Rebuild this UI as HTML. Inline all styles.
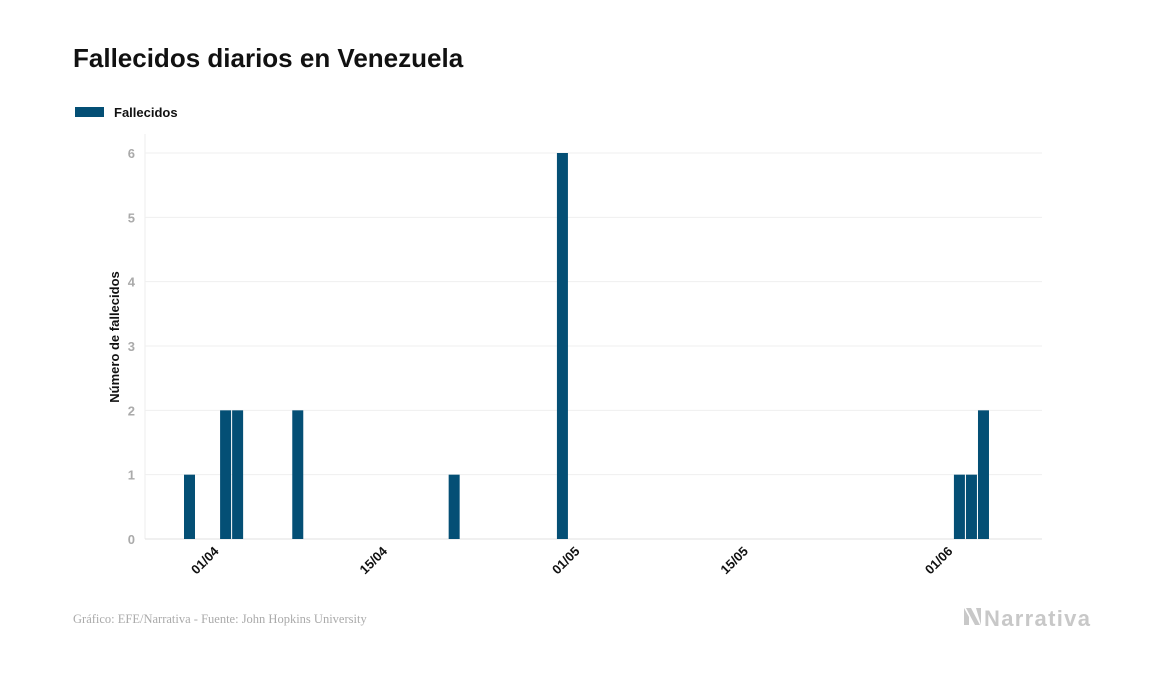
<!DOCTYPE html>
<html><head><meta charset="utf-8">
<style>
body{margin:0;background:#fff;width:1157px;height:674px;overflow:hidden;font-family:"Liberation Sans",sans-serif}
</style></head>
<body>
<svg width="1157" height="674" xmlns="http://www.w3.org/2000/svg" id="chart">
<text x="73" y="67" font-size="26" font-weight="bold" fill="#111">Fallecidos diarios en Venezuela</text>
<g>
<rect x="75" y="107" width="29" height="10" fill="#044f75"/>
<text x="114" y="117" font-size="13" font-weight="bold" fill="#111">Fallecidos</text>
</g>
<line x1="145" y1="134" x2="145" y2="539" stroke="#eee"/>
<g id="grid"></g>
<g id="bars"></g>
<g id="xticks"></g>
<text transform="translate(119,337) rotate(-90)" text-anchor="middle" font-size="13" font-weight="bold" fill="#111">Número de fallecidos</text>
<text x="73" y="623" font-family="Liberation Serif,serif" font-size="12.5" fill="#aaa">Gráfico: EFE/Narrativa - Fuente: John Hopkins University</text>
<g>
<path d="M964 608 l0 17 l5 0 l0 -8 z M966 608 l5 0 l9 17 l-5 0 z M976 608 l5 0 l0 17 z" fill="#c8c8c8"/>
<text x="984" y="626" font-size="22" font-weight="bold" fill="#c8c8c8" textLength="106">Narrativa</text>
</g>
</svg>
<script>
const startDate = "30/03";
const values = [1,0,0,2,2,0,0,0,0,2,0,0,0,0,0,0,0,0,0,0,0,0,1,0,0,0,0,0,0,0,0,6,0,0,0,0,0,0,0,0,0,0,0,0,0,0,0,0,0,0,0,0,0,0,0,0,0,0,0,0,0,0,0,0,1,1,2];
const yTicks = [0,1,2,3,4,5,6];
const xTickLabels = ["01/04","15/04","01/05","15/05","01/06"];
const xTickDays = [2,16,32,46,63];

const NS="http://www.w3.org/2000/svg";
const x0=184, step=12.03, bw=11;
const y = v => 539 - v*(539-153)/6;
const xc = d => x0 + d*step + bw/2;
const grid=document.getElementById('grid'), bars=document.getElementById('bars'), xt=document.getElementById('xticks');
function mk(tag, attrs){const e=document.createElementNS(NS,tag);for(const k in attrs)e.setAttribute(k,attrs[k]);return e;}
yTicks.forEach(t=>{
  const l=mk('line',{x1:145,x2:1042,y1:y(t),y2:y(t),stroke:t===0?'#e2e2e2':'#efefef'});
  
  
  grid.appendChild(l);
  const tx=mk('text',{x:135,y:y(t)+5,'text-anchor':'end','font-size':13,'font-weight':'bold',fill:'#aaa'});
  tx.textContent=t;
  
  
  grid.appendChild(tx);
});
values.forEach((v,i)=>{
  const h=Math.max(v*(539-153)/6,0);
  const r=mk('rect',{x:xc(i)-bw/2,y:y(v),width:bw,height:h,fill:'#044f75'});
  
  
  bars.appendChild(r);
});
xTickLabels.forEach((lab,i)=>{
  const x=xc(xTickDays[i]);
  const t=mk('text',{transform:`translate(${x+6},${552}) rotate(-45)`,'text-anchor':'end','font-size':13,'font-weight':'bold',fill:'#111'});
  t.textContent=lab;
  
  
  xt.appendChild(t);
});
</script>
</body></html>
